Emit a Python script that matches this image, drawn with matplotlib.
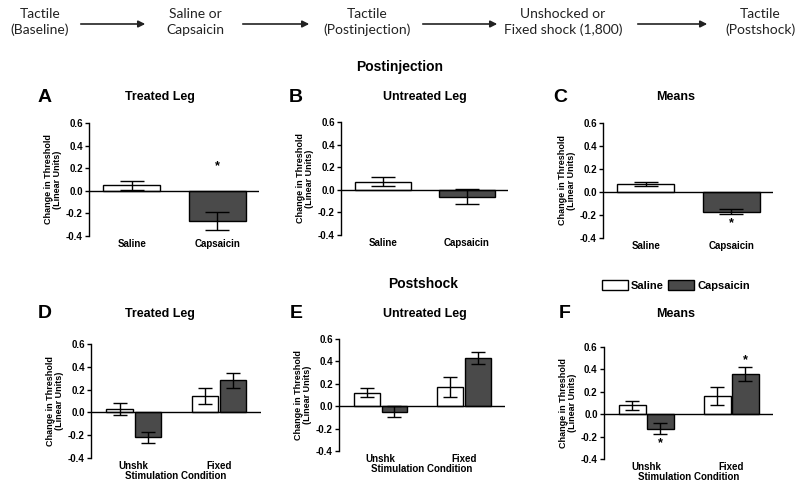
import matplotlib
matplotlib.use("Agg")
import matplotlib.pyplot as plt
import numpy as np

plt.rcParams['font.family'] = ['Liberation Sans', 'DejaVu Sans']

# ---------------- data ----------------
flow_steps = ["Tactile\n(Baseline)", "Saline or\nCapsaicin", "Tactile\n(Postinjection)",
              "Unshocked or\nFixed shock (1,800)", "Tactile\n(Postshock)"]

inj_categories = ["Saline", "Capsaicin"]
A_means = [0.05, -0.27]
A_err = [0.04, 0.08]
B_means = [0.07, -0.06]
B_err = [0.04, 0.07]
C_means = [0.07, -0.17]
C_err = [0.015, 0.025]

shock_categories = ["Unshk", "Fixed"]
D_saline = [0.03, 0.14]
D_saline_err = [0.05, 0.07]
D_caps = [-0.22, 0.28]
D_caps_err = [0.05, 0.07]
E_saline = [0.12, 0.17]
E_saline_err = [0.04, 0.09]
E_caps = [-0.05, 0.43]
E_caps_err = [0.05, 0.05]
F_saline = [0.08, 0.16]
F_saline_err = [0.04, 0.08]
F_caps = [-0.13, 0.36]
F_caps_err = [0.05, 0.06]

yticks = [-0.4, -0.2, 0.0, 0.2, 0.4, 0.6]

W, H = 800, 484
fig = plt.figure(figsize=(W / 100, H / 100), dpi=100)

DARK = '#4a4a4a'

def ax_px(x0, y0, x1, y1):
    return fig.add_axes([x0 / W, 1 - y1 / H, (x1 - x0) / W, (y1 - y0) / H])

def px(x, y):
    return x / W, 1 - y / H

def style(ax, cats, xlabel=None):
    ax.set_ylim(-0.4, 0.6)
    ax.set_xlim(-0.5, 1.49)
    ax.set_yticks(yticks)
    ax.set_yticklabels([f"{t:.1f}" for t in yticks], fontsize=7, fontweight='bold')
    ax.set_xticks(range(len(cats)))
    ax.set_xticklabels(cats, fontsize=7, fontweight='bold')
    ax.tick_params(axis='x', length=0, pad=2.5)
    ax.tick_params(axis='y', length=3, width=1, pad=1.5)
    for s in ['top', 'right', 'bottom']:
        ax.spines[s].set_visible(False)
    ax.spines['left'].set_linewidth(1)
    ax.axhline(0, color='black', lw=1, zorder=3)
    ax.set_ylabel("Change in Threshold\n(Linear Units)", fontsize=6.5, fontweight='bold',
                  labelpad=3, linespacing=1.0)
    if xlabel:
        ax.set_xlabel(xlabel, fontsize=7, fontweight='bold', labelpad=-0.5)
    ax.patch.set_alpha(0)

def inj_panel(ax, means, errs):
    x = np.arange(len(inj_categories))
    ax.bar(x, means, width=0.67, color=['white', DARK], edgecolor='black', lw=1, zorder=2)
    ax.errorbar(x, means, yerr=errs, fmt='none', ecolor='black', elinewidth=1,
                capsize=8.5, capthick=1, zorder=4)
    style(ax, inj_categories)

def shock_panel(ax, sal, sal_err, cap, cap_err):
    x = np.arange(len(shock_categories))
    off, w = 0.165, 0.31
    b1 = ax.bar(x - off, sal, width=w, color='white', edgecolor='black', lw=1, zorder=2,
                label='Saline')
    b2 = ax.bar(x + off, cap, width=w, color=DARK, edgecolor='black', lw=1, zorder=2,
                label='Capsaicin')
    ax.errorbar(x - off, sal, yerr=sal_err, fmt='none', ecolor='black', elinewidth=1,
                capsize=5, capthick=1, zorder=4)
    ax.errorbar(x + off, cap, yerr=cap_err, fmt='none', ecolor='black', elinewidth=1,
                capsize=5, capthick=1, zorder=4)
    style(ax, shock_categories, "Stimulation Condition")
    return b1, b2

def star(ax, x, y):
    ax.text(x, y, "*", ha='center', va='center', fontsize=9, fontweight='bold')

# ---------------- top flow row ----------------
flow_x = [40, 195, 367, 563, 760]
for t, xc in zip(flow_steps, flow_x):
    fig.text(*px(xc, 22), t, ha='center', va='center', fontsize=10, linespacing=1.3,
             family=['Lato', 'Open Sans', 'DejaVu Sans'], color='#222222')
arrows = [(78, 148), (240, 312), (420, 500), (635, 710)]
for a, b in arrows:
    fig.add_artist(matplotlib.patches.FancyArrowPatch(px(a, 24), px(b, 24),
                   transform=fig.transFigure, arrowstyle='-|>', mutation_scale=10,
                   lw=1.2, color='#222222'))

fig.text(*px(400, 67), "Postinjection", ha='center', va='center', fontsize=10, fontweight='bold')
fig.text(*px(423, 284), "Postshock", ha='center', va='center', fontsize=10, fontweight='bold')

# ---------------- panels ----------------
axA = ax_px(89, 123, 259, 236)
inj_panel(axA, A_means, A_err)
star(axA, 1, A_means[1] + 0.49)

axB = ax_px(341, 122, 508, 235)
inj_panel(axB, B_means, B_err)

axC = ax_px(603, 123, 773, 238)
inj_panel(axC, C_means, C_err)
star(axC, 1, C_means[1] - C_err[1] - 0.075)

axD = ax_px(91, 344, 261, 458)
shock_panel(axD, D_saline, D_saline_err, D_caps, D_caps_err)

axE = ax_px(339, 339, 505, 451)
shock_panel(axE, E_saline, E_saline_err, E_caps, E_caps_err)

axF = ax_px(604, 347, 773, 459)
hF = shock_panel(axF, F_saline, F_saline_err, F_caps, F_caps_err)
star(axF, 0.165, F_caps[0] - F_caps_err[0] - 0.075)
star(axF, 1.165, F_caps[1] + F_caps_err[1] + 0.065)

# panel letters and titles
letters = [("A", 45, 97, "Treated Leg", 160), ("B", 296, 97, "Untreated Leg", 425),
           ("C", 560, 97, "Means", 676), ("D", 45, 314, "Treated Leg", 160),
           ("E", 296, 314, "Untreated Leg", 425), ("F", 565, 314, "Means", 676)]
for L, lx, ly, title, tx in letters:
    fig.text(*px(lx, ly), L, ha='center', va='center', fontsize=14, fontweight='bold')
    fig.text(*px(tx, ly), title, ha='center', va='center', fontsize=9, fontweight='bold')

fig.legend(handles=list(hF), labels=["Saline", "Capsaicin"], ncol=2, frameon=False,
           loc='center', bbox_to_anchor=px(676, 285.5),
           prop={'weight': 'bold', 'size': 8}, handlelength=2.3, handleheight=0.9,
           handletextpad=0.3, columnspacing=0.4, borderpad=0)

fig.savefig("out.png", dpi=100)
